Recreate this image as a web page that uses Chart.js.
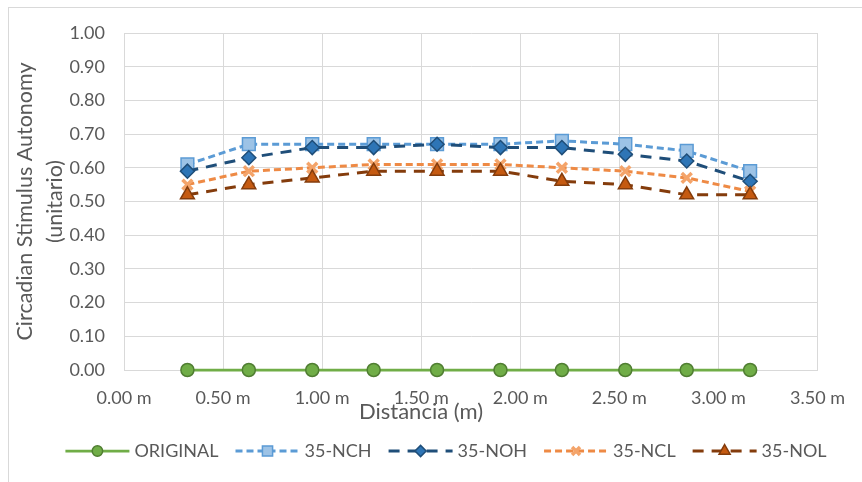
<!DOCTYPE html>
<html>
<head>
<meta charset="utf-8">
<script src="https://cdn.jsdelivr.net/npm/chart.js@4/dist/chart.umd.min.js"></script>
<style>
  html, body { margin: 0; padding: 0; background: #ffffff; }
  #wrap { position: relative; width: 862px; height: 482px; }
</style>
</head>
<body>
<div id="wrap"><canvas id="c" width="862" height="482"></canvas></div>
<script>
// Measurement positions along the room (m)
const distances = [0.32, 0.63, 0.95, 1.26, 1.58, 1.90, 2.21, 2.53, 2.84, 3.16];

// Circadian Stimulus Autonomy per scenario
const original = [0.00, 0.00, 0.00, 0.00, 0.00, 0.00, 0.00, 0.00, 0.00, 0.00];
const nch      = [0.61, 0.67, 0.67, 0.67, 0.67, 0.67, 0.68, 0.67, 0.65, 0.59];
const noh      = [0.59, 0.63, 0.66, 0.66, 0.67, 0.66, 0.66, 0.64, 0.62, 0.56];
const ncl      = [0.55, 0.59, 0.60, 0.61, 0.61, 0.61, 0.60, 0.59, 0.57, 0.53];
const nol      = [0.52, 0.55, 0.57, 0.59, 0.59, 0.59, 0.56, 0.55, 0.52, 0.52];

const seriesNames = ['ORIGINAL', '35-NCH', '35-NOH', '35-NCL', '35-NOL'];
const xTickLabels = ['0.00 m', '0.50 m', '1.00 m', '1.50 m', '2.00 m', '2.50 m', '3.00 m', '3.50 m'];
const yTickLabels = ['0.00', '0.10', '0.20', '0.30', '0.40', '0.50', '0.60', '0.70', '0.80', '0.90', '1.00'];
const xTitle = 'Distancia (m)';
const yTitle = ['Circadian Stimulus Autonomy', '(unitario)'];

const FONT = 'Lato, "Open Sans", sans-serif';
const TEXT = '#595959';
const GRID = '#d9d9d9';

const pts = v => v.map((y, i) => ({ x: distances[i], y }));

const styles = [
  { line: '#70AD47', dash: [],      width: 2.75, point: 'circle',   r: 6.5, bg: '#70AD47', bd: '#507E32', bw: 1.5, order: 5 },
  { line: '#5B9BD5', dash: [7, 4],  width: 3,    point: 'rect',     r: 9,   bg: '#9DC3E6', bd: '#5B9BD5', bw: 1.5, order: 4 },
  { line: '#1F4E79', dash: [11, 8], width: 3,    point: 'rectRot',  r: 7,   bg: '#2E75B6', bd: '#1F4E79', bw: 1.5, order: 3 },
  { line: '#EE8A45', dash: [7, 4],  width: 3,    point: 'crossRot', r: 7,   bg: '#F4A46A', bd: '#F4A46A', bw: 3.5, order: 2 },
  { line: '#843C0C', dash: [11, 8], width: 3,    point: 'triangle', r: 8,   bg: '#C55A11', bd: '#843C0C', bw: 1.5, order: 1 }
];
const values = [original, nch, noh, ncl, nol];

const datasets = values.map((v, i) => ({
  label: seriesNames[i],
  data: pts(v),
  borderColor: styles[i].line,
  borderWidth: styles[i].width,
  borderDash: styles[i].dash,
  pointStyle: styles[i].point,
  pointRadius: styles[i].r,
  pointHoverRadius: styles[i].r,
  pointBackgroundColor: styles[i].bg,
  pointBorderColor: styles[i].bd,
  pointBorderWidth: styles[i].bw,
  order: styles[i].order,
  tension: 0,
  fill: false,
  clip: false
}));

// Frame around the chart, bottom axis title and the legend row
const decorations = {
  id: 'decorations',
  beforeDraw(chart) {
    const ctx = chart.ctx;
    ctx.save();
    ctx.strokeStyle = GRID;
    ctx.lineWidth = 1;
    ctx.strokeRect(8.5, 7.5, 900, 520);
    ctx.restore();
  },
  afterDraw(chart) {
    const ctx = chart.ctx;
    ctx.save();
    ctx.fillStyle = TEXT;
    ctx.font = '22px ' + FONT;
    ctx.textAlign = 'center';
    ctx.textBaseline = 'middle';
    ctx.fillText(xTitle, 421, 412);

    // legend
    ctx.font = '18px ' + FONT;
    const sample = 64, gapText = 5, gapItem = 17;
    const widths = seriesNames.map(n => ctx.measureText(n).width);
    let total = 0;
    widths.forEach((w, i) => { total += sample + gapText + w + (i ? gapItem : 0); });
    let x = 446 - total / 2;
    const y = 451;
    seriesNames.forEach((name, i) => {
      const s = styles[i];
      ctx.save();
      ctx.strokeStyle = s.line;
      ctx.lineWidth = s.width;
      ctx.setLineDash(s.dash);
      ctx.beginPath();
      ctx.moveTo(x, y);
      ctx.lineTo(x + sample, y);
      ctx.stroke();
      ctx.setLineDash([]);
      ctx.fillStyle = s.bg;
      ctx.strokeStyle = s.bd;
      ctx.lineWidth = s.bw;
      Chart.helpers.drawPoint(ctx, { pointStyle: s.point, radius: s.r * 0.8, rotation: 0, borderWidth: s.bw }, x + sample / 2, y);
      ctx.restore();
      ctx.fillStyle = TEXT;
      ctx.textAlign = 'left';
      ctx.fillText(name, x + sample + gapText, y);
      x += sample + gapText + widths[i] + gapItem;
    });
    ctx.restore();
  }
};

new Chart(document.getElementById('c'), {
  type: 'line',
  data: { datasets },
  plugins: [decorations],
  options: {
    responsive: false,
    animation: false,
    events: [],
    layout: { padding: { left: 8, top: 33, right: 44, bottom: 52 } },
    plugins: { legend: { display: false }, tooltip: { enabled: false } },
    scales: {
      x: {
        type: 'linear',
        min: 0, max: 3.5,
        afterFit: s => { s.height = 60; },
        afterBuildTicks: s => { s.ticks = xTickLabels.map((_, i) => ({ value: i * 0.5 })); },
        ticks: {
          callback: (v, i) => xTickLabels[i],
          color: TEXT, font: { family: FONT, size: 18 }, padding: 17, maxRotation: 0, autoSkip: false
        },
        grid: { color: GRID, lineWidth: 1, drawTicks: false },
        border: { color: GRID }
      },
      y: {
        min: 0, max: 1,
        afterFit: s => { s.width = 116; },
        afterBuildTicks: s => { s.ticks = yTickLabels.map((_, i) => ({ value: i / 10 })); },
        ticks: {
          callback: (v, i) => yTickLabels[i],
          color: TEXT, font: { family: FONT, size: 18 }, padding: 19
        },
        grid: { color: GRID, lineWidth: 1, drawTicks: false },
        border: { color: GRID },
        title: {
          display: true, text: yTitle, color: TEXT,
          font: { family: FONT, size: 21.5, lineHeight: 1.4 },
          padding: { top: 2, bottom: 0 }
        }
      }
    }
  }
});
</script>
</body>
</html>
